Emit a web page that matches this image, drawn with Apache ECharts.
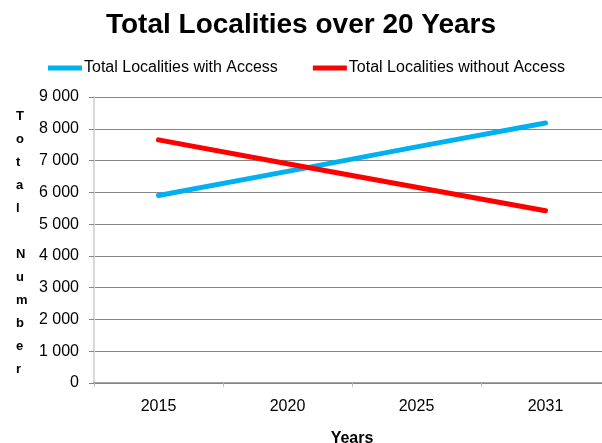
<!DOCTYPE html>
<html><head><meta charset="utf-8">
<script src="https://cdn.jsdelivr.net/npm/echarts@6/dist/echarts.min.js"></script>
<style>html,body{margin:0;padding:0;background:#fff}#c{width:602px;height:443px}</style>
</head><body><div id="c"></div>
<script>
const categories = ['2015', '2020', '2025', '2031'];
const withAccess = [5900, 6660, 7430, 8180];
const withoutAccess = [7650, 6900, 6160, 5420];
const seriesNames = ['Total Localities with Access', 'Total Localities without Access'];
const yTicks = { min: 0, max: 9000, interval: 1000 };
const font = '"Liberation Sans", Arial, sans-serif';

const chart = echarts.init(document.getElementById('c'), null, { renderer: 'canvas' });
chart.setOption({
  animation: false,
  backgroundColor: '#fff',
  title: [
    { text: 'Total Localities over 20 Years', left: 'center', top: 6,
      textStyle: { fontFamily: font, fontSize: 28, fontWeight: 'bold', color: '#000' } },
    { text: 'T\no\nt\na\nl\n\nN\nu\nm\nb\ne\nr', left: 11, top: 100,
      textStyle: { fontFamily: font, fontSize: 13, fontWeight: 'bold', color: '#000', lineHeight: 23, align: 'center' } }
  ],
  legend: {
    left: 43, top: 55, itemWidth: 34, itemHeight: 5, itemGap: 35,
    icon: 'rect',
    textStyle: { fontFamily: font, fontSize: 16, color: '#000', padding: [0, 0, 0, -3] },
    data: seriesNames
  },
  grid: { left: 94, top: 97, right: -8, bottom: 60, outerBoundsMode: 'none', containLabel: false },
  xAxis: {
    type: 'category', data: categories, boundaryGap: true,
    name: 'Years', nameLocation: 'middle', nameGap: 48,
    nameTextStyle: { fontFamily: font, fontSize: 16, fontWeight: 'bold', color: '#000' },
    axisLine: { lineStyle: { color: '#868686', width: 1.5 } },
    axisTick: { show: true, length: 4, lineStyle: { color: '#bfbfbf' } },
    axisLabel: { fontFamily: font, fontSize: 16, color: '#000', margin: 16 }
  },
  yAxis: {
    type: 'value', min: yTicks.min, max: yTicks.max, interval: yTicks.interval,
    axisLine: { show: true, lineStyle: { color: '#d9d9d9', width: 2 } },
    axisTick: { show: true, length: 5, lineStyle: { color: '#868686' } },
    axisLabel: { fontFamily: font, fontSize: 16, color: '#000', margin: 15,
      formatter: v => String(v).replace(/\B(?=(\d{3})+(?!\d))/g, ' ') },
    splitLine: { lineStyle: { color: '#868686', width: 1 } }
  },
  series: [
    { name: seriesNames[0], type: 'line', data: withAccess, showSymbol: false, symbol: 'none',
      color: '#00b0f0', lineStyle: { width: 5, color: '#00b0f0', cap: 'round' } },
    { name: seriesNames[1], type: 'line', data: withoutAccess, showSymbol: false, symbol: 'none',
      color: '#ff0000', lineStyle: { width: 5, color: '#ff0000', cap: 'round' } }
  ]
});
</script></body></html>
